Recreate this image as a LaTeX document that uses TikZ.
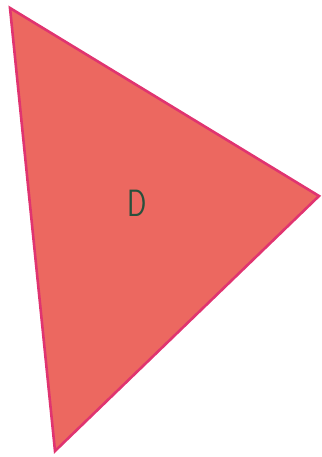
\documentclass[tikz,border=0pt]{standalone}
\begin{document}
\begin{tikzpicture}[x=1pt,y=-1pt,
  tri/.style={fill={rgb,255:red,236;green,104;blue,96}, draw={rgb,255:red,224;green,52;blue,112}, line width=2.6pt, line join=miter},
  lbl/.style={text={rgb,255:red,40;green,80;blue,60}, font=\sffamily\fontsize{38}{38}\selectfont, xscale=0.75, inner sep=0pt}]
\useasboundingbox (0,0) rectangle (321,457);
\coordinate (A) at (10,8);
\coordinate (B) at (319,196);
\coordinate (C) at (55,451);
\path[tri] (A) -- (B) -- (C) -- cycle;
\node[lbl] (d) at (137,203) {D};
\end{tikzpicture}
\end{document}
